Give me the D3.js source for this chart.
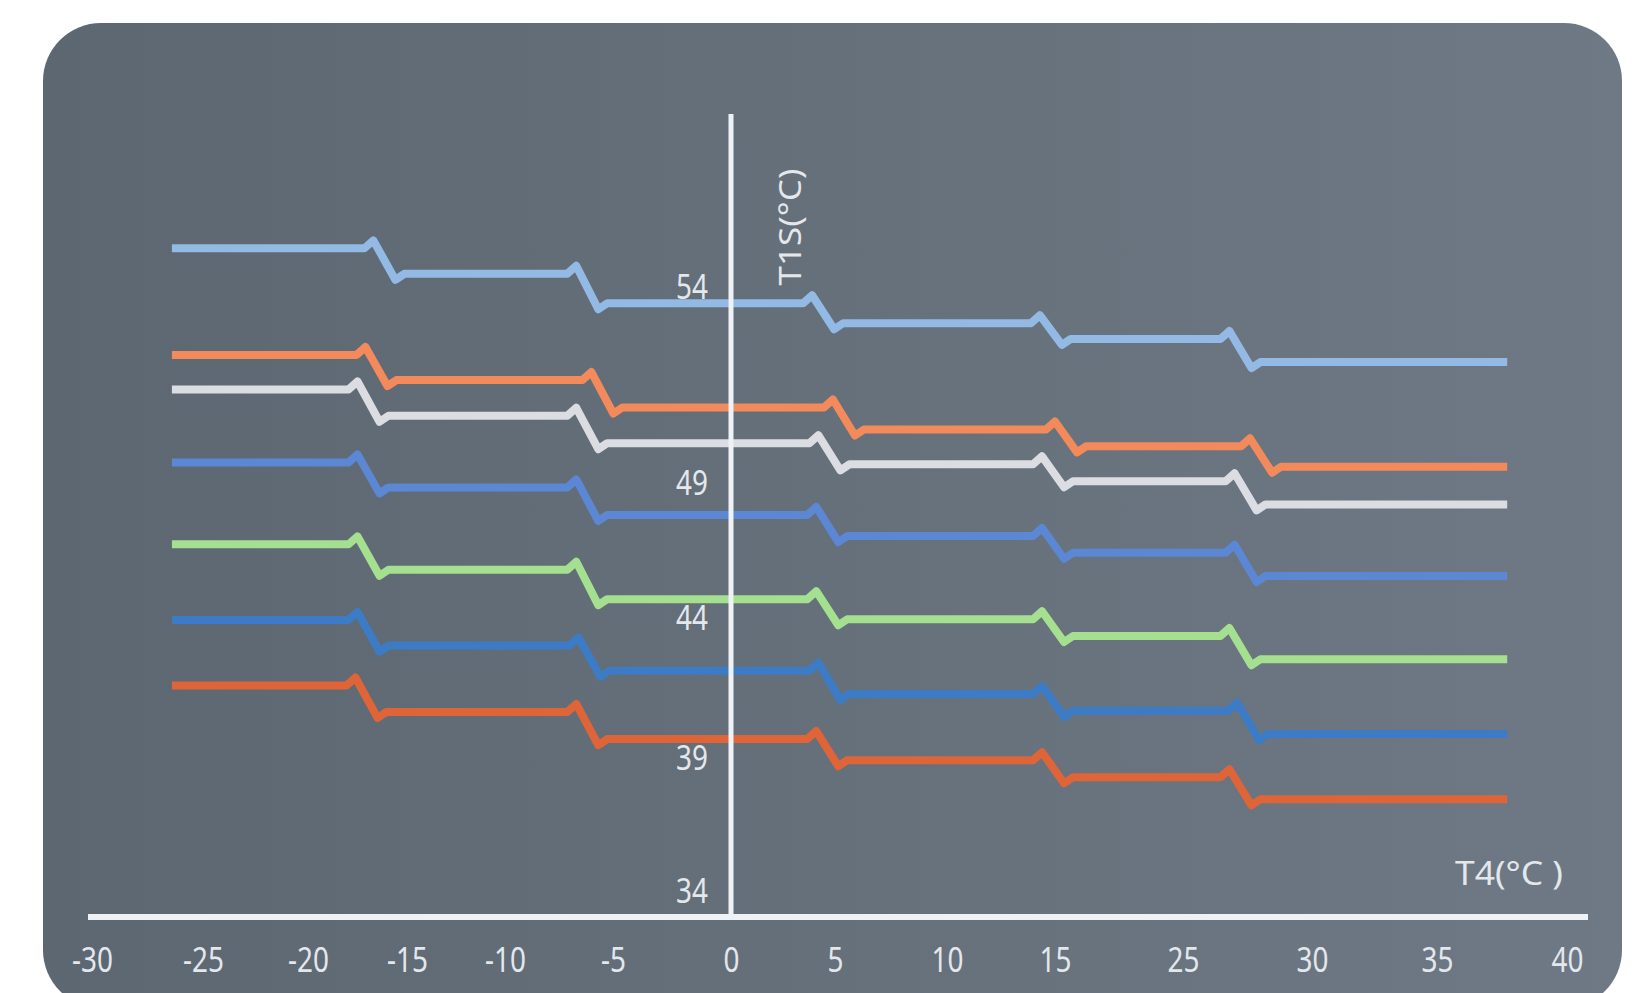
<!DOCTYPE html>
<html>
<head>
<meta charset="utf-8">
<script src="https://cdn.jsdelivr.net/npm/d3@7"></script>
<style>
  html, body { margin: 0; padding: 0; background: #ffffff; }
  svg { display: block; }
</style>
</head>
<body>
<div id="container"></div>
<script>
/* CONSTANTS AND GLOBALS */
const width = 1651,
  height = 993;

/* DATA */
// x axis tick labels (note: no 20 on the original axis)
const t4Ticks = [-30, -25, -20, -15, -10, -5, 0, 5, 10, 15, 25, 30, 35, 40];
// y axis tick labels
const t1sTicks = [34, 39, 44, 49, 54];

// every curve starts and ends at the same T4
const t4Start = -26.4,
  t4End = 37.7;

// T4 where each curve steps down, and the T1S level of each flat part
const stepsLightBlue = [-16.7, -6.7, 3.9, 14.3, 26.8];
const levelsLightBlue = [54.96, 54.31, 53.56, 53.05, 52.65, 52.06];

const stepsOrange = [-17.1, -6.0, 4.9, 15.0, 27.6];
const levelsOrange = [52.24, 51.60, 50.90, 50.34, 49.91, 49.39];

const stepsWhite = [-17.5, -6.7, 4.2, 14.4, 27.0];
const levelsWhite = [51.36, 50.69, 49.99, 49.45, 49.02, 48.17];

const stepsBlue = [-17.5, -6.7, 4.1, 14.4, 27.0];
const levelsBlue = [49.50, 48.80, 47.78, 47.00, 46.38, 45.52];

const stepsGreen = [-17.5, -6.7, 4.1, 14.4, 26.8];
const levelsGreen = [46.69, 45.75, 44.66, 43.92, 43.32, 42.49];

const stepsDarkBlue = [-17.5, -6.6, 4.2, 14.4, 27.1];
const levelsDarkBlue = [43.89, 42.98, 42.08, 41.25, 40.65, 39.82];

const stepsRed = [-17.6, -6.7, 4.1, 14.4, 26.8];
const levelsRed = [41.55, 40.61, 39.64, 38.88, 38.24, 37.41];

const series = [
  { steps: stepsLightBlue, levels: levelsLightBlue, color: "#93b9e5" },
  { steps: stepsOrange, levels: levelsOrange, color: "#f38a5b" },
  { steps: stepsWhite, levels: levelsWhite, color: "#dcdde2" },
  { steps: stepsBlue, levels: levelsBlue, color: "#5b87d5" },
  { steps: stepsGreen, levels: levelsGreen, color: "#a4e08f" },
  { steps: stepsDarkBlue, levels: levelsDarkBlue, color: "#3c7cc6" },
  { steps: stepsRed, levels: levelsRed, color: "#df6538" }
];

/* SCALES */
// the tick labels on the original are not evenly spaced, so piecewise scales
const xScale = d3.scaleLinear()
  .domain(t4Ticks)
  .range([92, 203, 308, 407, 505, 613, 731, 835, 947, 1055, 1183, 1312, 1437, 1567]);

const yScale = d3.scaleLinear()
  .domain(t1sTicks)
  .range([890, 757, 617, 482, 286]);

/* HTML ELEMENTS */
const svg = d3.select("#container")
  .append("svg")
  .attr("width", width)
  .attr("height", height);

const defs = svg.append("defs");
const grad = defs.append("linearGradient")
  .attr("id", "cardBg")
  .attr("x1", "0%").attr("x2", "100%")
  .attr("y1", "0%").attr("y2", "0%");
grad.append("stop").attr("offset", "0%").attr("stop-color", "#5d6771");
grad.append("stop").attr("offset", "55%").attr("stop-color", "#66717c");
grad.append("stop").attr("offset", "100%").attr("stop-color", "#6e7985");

// rounded card
svg.append("rect")
  .attr("x", 43)
  .attr("y", 23)
  .attr("width", 1622 - 43)
  .attr("height", 985)
  .attr("rx", 58)
  .attr("fill", "url(#cardBg)");

/* LINES */
const line = d3.line()
  .x(d => d[0])
  .y(d => d[1]);

// flat part, a small kick up, slide down, small undershoot, flat again
function stepPoints(s) {
  const pts = [[xScale(t4Start), yScale(s.levels[0])]];
  s.steps.forEach((t, i) => {
    const xp = xScale(t);
    const y0 = yScale(s.levels[i]);
    const y1 = yScale(s.levels[i + 1]);
    pts.push([xp - 9, y0]);
    pts.push([xp, y0 - 8]);
    pts.push([xp + 22, y1 + 6]);
    pts.push([xp + 31, y1]);
  });
  pts.push([xScale(t4End), yScale(s.levels[s.levels.length - 1])]);
  return pts;
}

svg.selectAll(".curve")
  .data(series)
  .join("path")
  .attr("class", "curve")
  .attr("d", d => line(stepPoints(d)))
  .attr("fill", "none")
  .attr("stroke", d => d.color)
  .attr("stroke-width", 8)
  .attr("stroke-linejoin", "round")
  .attr("stroke-linecap", "butt");

/* AXES */
const axisColor = "#eef1f5";
const labelColor = "#e4e7ec";
const fontStack = "'Noto Sans', 'Open Sans', 'DejaVu Sans', sans-serif";

// horizontal axis line
svg.append("line")
  .attr("x1", 88).attr("x2", 1588)
  .attr("y1", 917).attr("y2", 917)
  .attr("stroke", axisColor)
  .attr("stroke-width", 6);

// vertical axis line at T4 = 0
svg.append("line")
  .attr("x1", xScale(0)).attr("x2", xScale(0))
  .attr("y1", 114).attr("y2", 917)
  .attr("stroke", axisColor)
  .attr("stroke-width", 5);

const xAxis = d3.axisBottom(xScale)
  .tickValues(t4Ticks)
  .tickSize(0)
  .tickFormat(d => `${d}`);

const gx = svg.append("g")
  .attr("transform", "translate(0, 960)")
  .call(xAxis);
gx.select(".domain").remove();
gx.selectAll("text")
  .attr("x", 0)
  .attr("y", 0)
  .attr("dy", "0.36em")
  .attr("transform", "scale(0.82, 1)")
  .style("font-family", fontStack)
  .style("font-size", "34px")
  .style("fill", labelColor);

const yAxis = d3.axisLeft(yScale)
  .tickValues(t1sTicks)
  .tickSize(0)
  .tickFormat(d => `${d}`);

const gy = svg.append("g")
  .attr("transform", "translate(708, 0)")
  .call(yAxis);
gy.select(".domain").remove();
gy.selectAll("text")
  .attr("x", 0)
  .attr("dy", "0.36em")
  .attr("text-anchor", "end")
  .attr("transform", "scale(0.82, 1)")
  .style("font-family", fontStack)
  .style("font-size", "34px")
  .style("fill", labelColor);

// axis titles
svg.append("text")
  .attr("transform", "translate(789, 227) rotate(-90)")
  .attr("text-anchor", "middle")
  .attr("dominant-baseline", "central")
  .attr("textLength", 117)
  .attr("lengthAdjust", "spacingAndGlyphs")
  .style("font-family", fontStack)
  .style("font-size", "30px")
  .style("fill", labelColor)
  .text("T1S(°C)");

svg.append("text")
  .attr("x", 1563)
  .attr("y", 872)
  .attr("text-anchor", "end")
  .attr("dominant-baseline", "central")
  .attr("textLength", 108)
  .attr("lengthAdjust", "spacingAndGlyphs")
  .style("font-family", fontStack)
  .style("font-size", "32px")
  .style("fill", labelColor)
  .text("T4(°C )");
</script>
</body>
</html>
